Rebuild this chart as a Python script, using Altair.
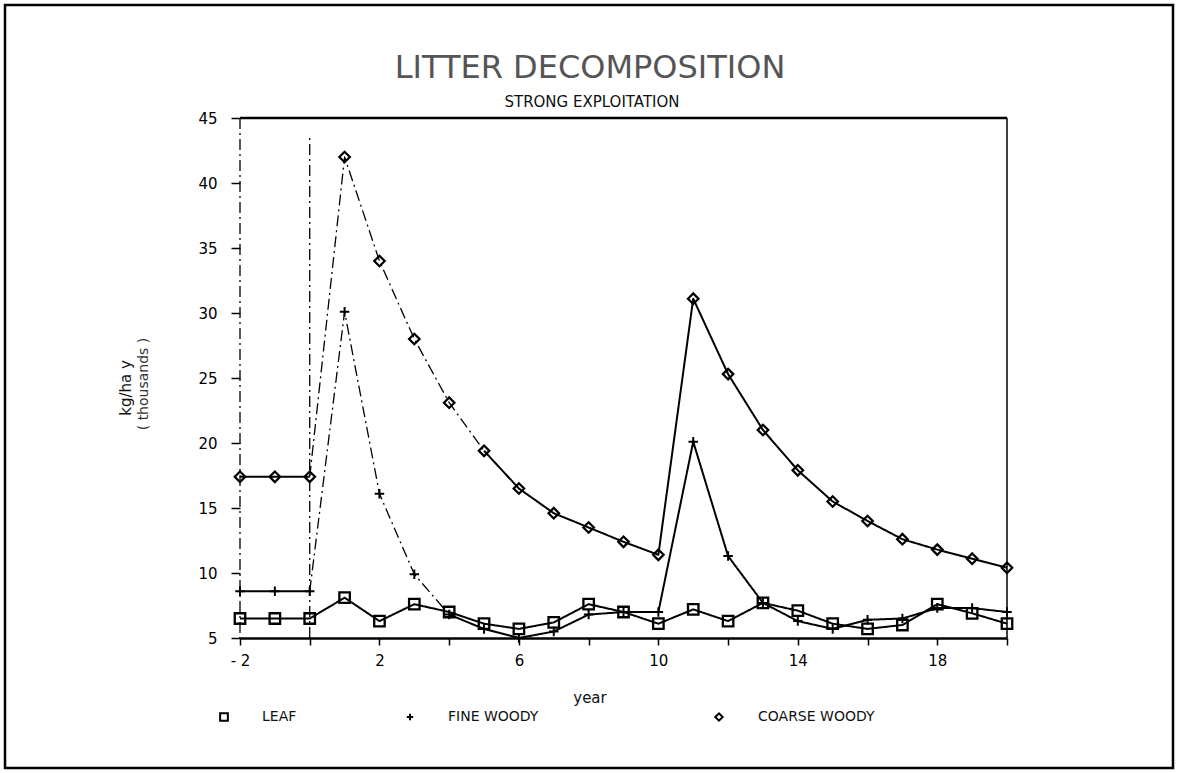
import altair as alt
import pandas as pd

# ---- data -------------------------------------------------------------
YEARS = list(range(-2, 21))

LEAF = [6.5, 6.5, 6.5, 8.1, 6.3, 7.6, 7.0, 6.1, 5.7, 6.2, 7.6, 7.0,
        6.1, 7.2, 6.3, 7.7, 7.1, 6.1, 5.7, 6.0, 7.6, 6.9, 6.1]
FINE_WOODY = [8.6, 8.6, 8.6, 30.1, 16.1, 9.9, 6.8, 5.7, 5.0, 5.5, 6.8, 7.0,
              7.0, 20.1, 11.3, 7.7, 6.3, 5.7, 6.4, 6.5, 7.3, 7.3, 7.0]
COARSE_WOODY = [17.4, 17.4, 17.4, 42.0, 34.0, 28.0, 23.1, 19.4, 16.5, 14.6,
                13.5, 12.4, 11.4, 31.1, 25.3, 21.0, 17.9, 15.5, 14.0, 12.6,
                11.8, 11.1, 10.4]

SERIES = ["LEAF", "FINE WOODY", "COARSE WOODY"]
Y_TICKS = [5, 10, 15, 20, 25, 30, 35, 40, 45]
X_TICKS = list(range(-2, 21, 2))
X_LABELS = [-2, 2, 6, 10, 14, 18]

# year of the first cut and the reach of its marker line
CUT_YEAR = 0
CUT_TOP = 43.5

# stretch of each trace after the cut that is drawn dash-dot
BROKEN = {"FINE WOODY": (0, 4), "COARSE WOODY": (0, 5)}

values = {"LEAF": LEAF, "FINE WOODY": FINE_WOODY, "COARSE WOODY": COARSE_WOODY}

line_rows = []
point_rows = []
for name in SERIES:
    lo, hi = BROKEN.get(name, (None, None))
    for yr, v in zip(YEARS, values[name]):
        point_rows.append({"series": name, "year": yr, "value": v})
        if lo is None:
            line_rows.append({"seg": name, "style": "solid", "year": yr, "value": v})
            continue
        if yr <= lo:
            line_rows.append({"seg": name + " a", "style": "solid", "year": yr, "value": v})
        if lo <= yr <= hi:
            line_rows.append({"seg": name + " b", "style": "broken", "year": yr, "value": v})
        if yr >= hi:
            line_rows.append({"seg": name + " c", "style": "solid", "year": yr, "value": v})

lines_df = pd.DataFrame(line_rows)
points_df = pd.DataFrame(point_rows)
cut_df = pd.DataFrame({"year": [CUT_YEAR], "value": [Y_TICKS[0]], "top": [CUT_TOP]})

# ---- layout -----------------------------------------------------------
W, H = 767, 520
LEFT, TOP = 240, 118
FONT = "DejaVu Sans"
DASHDOT = [11, 4, 2, 4]
one = alt.Data(values=[{}])

label_expr = (
    f"indexof({X_LABELS}, datum.value) >= 0 ? "
    "(datum.value < 0 ? '- ' + abs(datum.value) : '' + datum.value) : ''"
)

X = alt.X(
    "year:Q",
    scale=alt.Scale(domain=[-2, 20], nice=False, zero=False),
    axis=alt.Axis(
        values=X_TICKS, labelExpr=label_expr, title=None, grid=False,
        tickSize=7, tickWidth=1.5, tickColor="black",
        domainWidth=2.5, domainColor="black",
        labelFont=FONT, labelFontSize=15, labelColor="black", labelPadding=8,
        labelFlush=False,
    ),
)
Y = alt.Y(
    "value:Q",
    scale=alt.Scale(domain=[5, 45], nice=False, zero=False),
    axis=alt.Axis(
        values=Y_TICKS, title=None, grid=False, domain=False,
        tickSize=9, tickWidth=1.5, tickColor="black",
        labelFont=FONT, labelFontSize=15, labelColor="black", labelPadding=14,
        labelFlush=False,
    ),
)

lines = alt.Chart(lines_df).mark_line(color="black", strokeJoin="round").encode(
    x=X,
    y=Y,
    detail="seg:N",
    order="year:Q",
    strokeDash=alt.StrokeDash(
        "style:N",
        scale=alt.Scale(domain=["solid", "broken"], range=[[1, 0], DASHDOT]),
        legend=None,
    ),
    strokeWidth=alt.StrokeWidth(
        "style:N",
        scale=alt.Scale(domain=["solid", "broken"], range=[2.0, 1.3]),
        legend=None,
    ),
)

PLUS = "M-1,0H1M0,-1V1"

leaf_pts = alt.Chart(points_df).transform_filter(alt.datum.series == "LEAF").mark_point(
    shape="square", filled=False, size=110, strokeWidth=2.3, color="black", opacity=1
).encode(x=X, y=Y)

fine_pts = alt.Chart(points_df).transform_filter(alt.datum.series == "FINE WOODY").mark_point(
    shape=PLUS, filled=False, size=90, strokeWidth=2, color="black", opacity=1
).encode(x=X, y=Y)

coarse_pts = alt.Chart(points_df).transform_filter(alt.datum.series == "COARSE WOODY").mark_point(
    shape="diamond", filled=False, size=110, strokeWidth=2.3, color="black", opacity=1
).encode(x=X, y=Y)

cut_rule = alt.Chart(cut_df).mark_rule(
    color="black", strokeWidth=1.3, strokeDash=DASHDOT
).encode(x=X, y=Y, y2=alt.Y2("top:Q"))

# frame of the plot area
left_edge = alt.Chart(one).mark_rule(color="black", strokeWidth=1.3, strokeDash=DASHDOT).encode(
    x=alt.value(0), y=alt.value(0), y2=alt.value(H)
)
top_edge = alt.Chart(one).mark_rule(color="black", strokeWidth=2.5).encode(
    x=alt.value(0), x2=alt.value(W), y=alt.value(0)
)
right_edge = alt.Chart(one).mark_rule(color="black", strokeWidth=1.5).encode(
    x=alt.value(W), y=alt.value(0), y2=alt.value(H)
)

# frame around the whole figure
outer = alt.Chart(one).mark_rect(filled=False, stroke="black", strokeWidth=2.5).encode(
    x=alt.value(5 - LEFT), x2=alt.value(1173 - LEFT),
    y=alt.value(5 - TOP), y2=alt.value(768 - TOP),
)


def text(label, x, y, size, **kw):
    opts = dict(font=FONT, fontSize=size, color="#111", align="center", baseline="middle")
    opts.update(kw)
    return alt.Chart(one).mark_text(**opts).encode(
        x=alt.value(x), y=alt.value(y), text=alt.value(label)
    )


title = text("LITTER DECOMPOSITION", 590 - LEFT, 68 - TOP, 32, color="#555")
subtitle = text("STRONG EXPLOITATION", 592 - LEFT, 102 - TOP, 15)
ytitle1 = text("kg/ha y", 126 - LEFT, 388 - TOP, 15, angle=270)
ytitle2 = text("( thousands )", 144 - LEFT, 384 - TOP, 14, angle=270, color="#333")
xtitle = text("year", 590 - LEFT, 698 - TOP, 15)

LEG_Y = 717 - TOP


def legend_symbol(shape, x, size):
    return alt.Chart(one).mark_point(
        shape=shape, filled=False, size=size, strokeWidth=2, color="black", opacity=1
    ).encode(x=alt.value(x), y=alt.value(LEG_Y))


legend = [
    legend_symbol("square", 224 - LEFT, 60),
    text(SERIES[0], 262 - LEFT, LEG_Y, 14, align="left"),
    legend_symbol(PLUS, 410 - LEFT, 40),
    text(SERIES[1], 448 - LEFT, LEG_Y, 14, align="left"),
    legend_symbol("diamond", 719 - LEFT, 55),
    text(SERIES[2], 758 - LEFT, LEG_Y, 14, align="left"),
]

chart = alt.layer(
    outer, left_edge, top_edge, right_edge, cut_rule,
    lines, leaf_pts, fine_pts, coarse_pts,
    title, subtitle, ytitle1, ytitle2, xtitle, *legend,
).properties(
    width=W,
    height=H,
    autosize=alt.AutoSizeParams(type="none"),
    padding={"left": LEFT, "top": TOP, "right": 1177 - LEFT - W, "bottom": 773 - TOP - H},
    background="white",
).configure_view(stroke=None)

chart.save("out.html", embed_options={"renderer": "svg", "actions": False})
